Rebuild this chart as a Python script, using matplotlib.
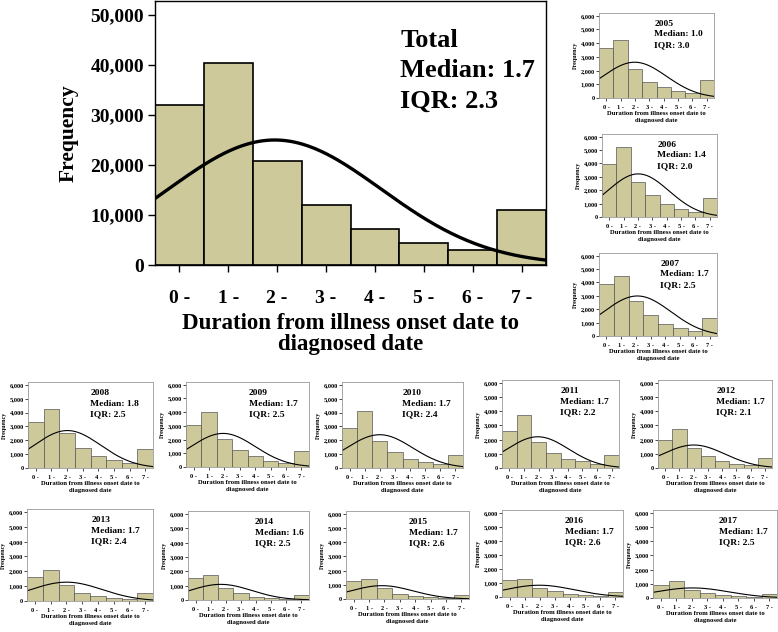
import numpy as np
import matplotlib
matplotlib.use('Agg')
import matplotlib.pyplot as plt

plt.rcParams['font.family'] = ['Liberation Serif', 'DejaVu Serif']
plt.rcParams['font.weight'] = 'bold'
plt.rcParams['axes.labelweight'] = 'bold'

# bins (days from illness onset to diagnosis)
bin_labels = ['0 -', '1 -', '2 -', '3 -', '4 -', '5 -', '6 -', '7 -']

# total panel
total_counts = [32000, 40400, 20800, 12000, 7200, 4400, 3000, 11000]
total_median, total_iqr = 1.7, 2.3
total_curve = (25000, 2.45, 2.18)   # peak, mean, sd of the normal curve

# yearly panels
years = ['2005', '2006', '2007', '2008', '2009', '2010', '2011',
         '2012', '2013', '2014', '2015', '2016', '2017']
medians = [1.0, 1.4, 1.7, 1.8, 1.7, 1.7, 1.7, 1.7, 1.7, 1.6, 1.7, 1.7, 1.7]
iqrs = [3.0, 2.0, 2.5, 2.5, 2.5, 2.4, 2.2, 2.1, 2.4, 2.5, 2.6, 2.6, 2.5]
counts_2005 = [3650, 4210, 2130, 1190, 770, 480, 390, 1330]
counts_2006 = [3970, 5260, 2600, 1610, 940, 570, 400, 1440]
counts_2007 = [3900, 4450, 2600, 1560, 930, 600, 380, 1380]
counts_2008 = [3300, 4270, 2500, 1420, 860, 550, 340, 1350]
counts_2009 = [3070, 4000, 2050, 1270, 780, 420, 320, 1150]
counts_2010 = [2850, 4100, 1950, 1120, 640, 450, 280, 970]
counts_2011 = [2620, 3750, 1800, 1070, 660, 500, 260, 930]
counts_2012 = [1980, 2740, 1420, 820, 470, 300, 230, 700]
counts_2013 = [1620, 2100, 1070, 520, 340, 220, 160, 520]
counts_2014 = [1510, 1740, 860, 470, 230, 160, 70, 350]
counts_2015 = [1290, 1430, 770, 370, 210, 160, 70, 300]
counts_2016 = [1200, 1300, 670, 410, 240, 170, 70, 380]
counts_2017 = [940, 1180, 590, 350, 200, 160, 70, 280]
year_counts = [counts_2005, counts_2006, counts_2007, counts_2008, counts_2009,
               counts_2010, counts_2011, counts_2012, counts_2013, counts_2014,
               counts_2015, counts_2016, counts_2017]
curve_peak = [2610, 3220, 2990, 2700, 2450, 2400, 2200, 1620, 1270, 1090, 940, 840, 710]
curve_mean = [2.48, 2.52, 2.60, 2.52, 2.41, 2.49, 2.45, 2.51, 2.51, 2.16, 2.33, 2.47, 2.54]
curve_sd = [2.22, 2.14, 2.28, 2.14, 2.10, 2.18, 2.11, 2.19, 2.27, 2.06, 2.04, 2.33, 2.37]

W, H = 778, 632
BAR = '#cdc99a'

# panel boxes in pixels: x0, x1, ytop, ybottom, text x fraction
main_box = (155, 546, 1, 265)
year_boxes = [
    (599, 714, 13, 98, 0.48), (602, 717, 134, 217, 0.48), (599, 717, 253, 336, 0.52),
    (28, 153, 382, 468, 0.50), (186, 309, 382, 467, 0.51), (342, 463, 382, 468, 0.50),
    (502, 619, 380, 468, 0.50), (658, 772, 380, 468, 0.51),
    (27, 153, 509, 601, 0.51), (188, 309, 511, 600, 0.55), (346, 469, 511, 599, 0.51),
    (502, 623, 510, 597, 0.52), (653, 777, 510, 598, 0.53)]


def px_axes(fig, x0, x1, y0, y1):
    return fig.add_axes([x0 / W, 1 - y1 / H, (x1 - x0) / W, (y1 - y0) / H])


def draw_hist(ax, counts, peak, mu, sd, big):
    x = np.arange(len(counts))
    ax.bar(x, counts, width=1.0, align='edge', color=BAR,
           edgecolor='black' if big else '#555555', linewidth=1.2 if big else 0.5)
    xs = np.linspace(0, 8, 200)
    ax.plot(xs, peak * np.exp(-(xs - mu) ** 2 / (2 * sd ** 2)), color='black',
            lw=2.4 if big else 0.8)
    ax.set_xlim(0, 8)
    ax.set_xticks(x + 0.5)
    ax.set_xticklabels(bin_labels)
    ax.yaxis.set_major_formatter(matplotlib.ticker.StrMethodFormatter('{x:,.0f}'))
    for s in ax.spines.values():
        s.set_color('black' if big else '#999999')
        s.set_linewidth(1.0 if big else 0.6)


fig = plt.figure(figsize=(W / 100, H / 100), dpi=100)

ax = px_axes(fig, *main_box)
draw_hist(ax, total_counts, *total_curve, big=True)
ax.set_ylim(0, 52800)
ax.set_yticks(range(0, 50001, 10000))
ax.tick_params(labelsize=14, length=5, width=1, pad=3)
ax.tick_params(axis='x', pad=13)
ax.set_ylabel('Frequency', fontsize=15.5, labelpad=8)
ax.set_xlabel('Duration from illness onset date to\ndiagnosed date', fontsize=16.5,
              labelpad=4, linespacing=1.05)
ax.text(0.627, 0.895, 'Total\nMedian: %.1f\nIQR: %.1f' % (total_median, total_iqr),
        transform=ax.transAxes, fontsize=19, va='top', ha='left', linespacing=1.42,
        fontweight='bold')

for i, yr in enumerate(years):
    x0, x1, y0, y1, tx = year_boxes[i]
    a = px_axes(fig, x0, x1, y0, y1)
    draw_hist(a, year_counts[i], curve_peak[i], curve_mean[i], curve_sd[i], big=False)
    a.set_ylim(0, 6200)
    a.set_yticks(range(0, 6001, 1000))
    a.tick_params(labelsize=4.6, length=2, width=0.5, pad=1)
    a.tick_params(axis='x', pad=3)
    a.set_ylabel('Frequency', fontsize=4.3, labelpad=2)
    a.set_xlabel('Duration from illness onset date to\ndiagnosed date', fontsize=4.8,
                 labelpad=1, linespacing=1.5)
    a.text(tx, 0.92, '%s\nMedian: %.1f\nIQR: %.1f' % (yr, medians[i], iqrs[i]),
           transform=a.transAxes, fontsize=6.8, va='top', ha='left', linespacing=1.45,
           fontweight='bold')

fig.savefig('out.png', dpi=100)
